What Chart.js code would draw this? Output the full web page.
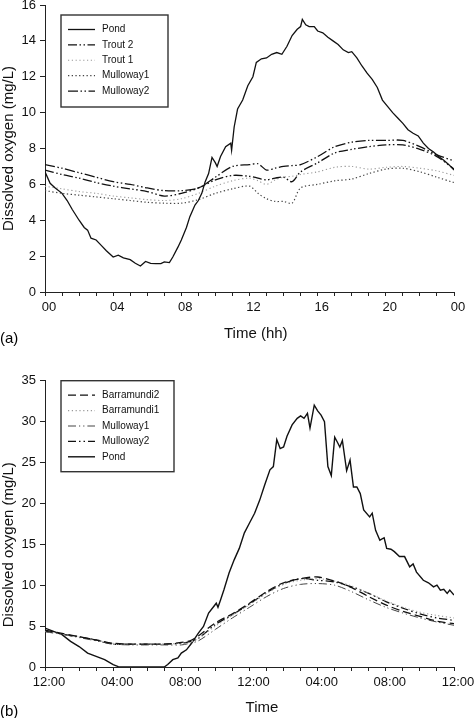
<!DOCTYPE html>
<html>
<head>
<meta charset="utf-8">
<script src="https://cdn.jsdelivr.net/npm/chart.js@4/dist/chart.umd.min.js"></script>
<style>
  body { margin: 0; background: #fff; width: 474px; height: 718px; position: relative; overflow: hidden;
         font-family: "Liberation Sans", Arial, sans-serif; }
  canvas { position: absolute; left: 0; }
  #chartA { top: 0; }
  #chartB { top: 359px; }
  .tag { position: absolute; left: 0; font-size: 15px; line-height: 17px; color: #000; }
</style>
</head>
<body>
<canvas id="chartA" width="474" height="345"></canvas>
<canvas id="chartB" width="474" height="359"></canvas>
<div class="tag" style="top:329px">(a)</div>
<div class="tag" style="top:702px">(b)</div>
<script>
// ---------- panel (a) ----------
const xLabelsA = ['00', '04', '08', '12', '16', '20', '00'];

const pondHoursA = [0, 0.3, 0.6, 1, 1.3, 1.6, 2, 2.3, 2.5, 2.7, 3, 3.3, 3.6, 4, 4.3, 4.6, 5, 5.3, 5.6, 5.9,
  6.2, 6.5, 6.8, 7, 7.3, 7.5, 7.8, 8, 8.3, 8.5, 8.8, 9, 9.2, 9.4, 9.6, 9.8, 10, 10.1, 10.3, 10.6,
  10.9, 10.95, 11.1, 11.3, 11.6, 11.9, 12.2, 12.4, 12.7, 13, 13.3, 13.6, 13.9, 14.2, 14.5, 14.8, 15, 15.1, 15.3, 15.5,
  15.8, 16, 16.3, 16.6, 16.9, 17.2, 17.5, 17.8, 18, 18.3, 18.6, 18.9, 19.2, 19.5, 19.8, 20.1, 20.4, 20.7, 21, 21.3,
  21.6, 21.9, 22.2, 22.5, 22.8, 23.1, 23.4, 23.7, 24];
const pondA = [6.7, 6.06, 5.8, 5.5, 5.1, 4.6, 4.0, 3.6, 3.45, 3.0, 2.9, 2.6, 2.3, 1.95, 2.05, 1.9, 1.8, 1.6, 1.45, 1.7,
  1.6, 1.58, 1.58, 1.68, 1.64, 1.95, 2.5, 2.9, 3.6, 4.2, 4.85, 5.1, 5.5, 6.15, 6.6, 7.5, 7.2, 7.0, 7.55, 8.1,
  8.3, 7.9, 9.2, 10.2, 10.7, 11.5, 12.0, 12.8, 13.0, 13.05, 13.25, 13.35, 13.25, 13.7, 14.3, 14.65, 14.8, 15.2, 14.9, 14.8,
  14.8, 14.55, 14.45, 14.2, 14.0, 13.8, 13.5, 13.35, 13.4, 13.05, 12.6, 12.2, 11.85, 11.4, 10.7, 10.35, 10.0, 9.7, 9.4, 9.05,
  8.85, 8.7, 8.3, 8.0, 7.8, 7.55, 7.35, 7.1, 6.8];

const hoursA = [0, 1, 2, 3, 4, 5, 6, 7, 8, 9, 10, 11, 12, 12.5, 13, 13.5, 14, 14.5, 15, 16, 17, 18, 19, 20, 21, 22, 23, 24];
const trout2A    = [6.8, 6.55, 6.35, 6.1, 5.9, 5.75, 5.6, 5.35, 5.5, 5.8, 6.25, 6.5, 6.45, 6.35, 6.25, 6.35, 6.4, 6.15, 6.7, 7.2, 7.75, 7.95, 8.1, 8.2, 8.2, 7.95, 7.55, 6.85];
const trout1A    = [5.9, 5.75, 5.6, 5.5, 5.35, 5.25, 5.15, 5.1, 5.2, 5.5, 5.9, 6.2, 6.35, 6.2, 6.0, 6.25, 6.4, 6.45, 6.55, 6.7, 6.95, 7.0, 6.85, 6.95, 7.0, 6.9, 6.75, 6.5];
const mulloway1A = [5.65, 5.5, 5.4, 5.3, 5.2, 5.1, 5.0, 4.95, 4.95, 5.15, 5.5, 5.75, 5.9, 5.5, 5.2, 5.05, 5.05, 4.95, 5.8, 6.0, 6.2, 6.3, 6.6, 6.85, 6.9, 6.7, 6.4, 6.1];
const mulloway2A = [7.1, 6.9, 6.65, 6.4, 6.15, 6.0, 5.8, 5.65, 5.65, 5.8, 6.4, 7.0, 7.1, 7.15, 6.8, 6.9, 7.0, 7.05, 7.1, 7.55, 8.1, 8.35, 8.45, 8.45, 8.45, 8.1, 7.65, 7.3];

// ---------- panel (b) ----------
const xLabelsB = ['12:00', '04:00', '08:00', '12:00', '04:00', '08:00', '12:00'];

const pondHoursB = [0, 0.5, 1, 1.5, 2, 2.5, 3, 3.5, 4, 4.3, 4.5, 7, 7.2, 7.5, 7.8, 8, 8.3, 8.6, 9, 9.3,
  9.6, 9.9, 10.05, 10.15, 10.3, 10.5, 10.8, 11.1, 11.4, 11.7, 12, 12.3, 12.6, 12.9, 13.2, 13.4, 13.6, 13.8, 14, 14.2,
  14.5, 14.8, 15, 15.2, 15.4, 15.55, 15.8, 16, 16.2, 16.4, 16.6, 16.8, 17, 17.15, 17.3, 17.45, 17.7, 17.9, 18.1, 18.3,
  18.5, 18.7, 19.05, 19.2, 19.4, 19.65, 19.9, 20.05, 20.3, 20.5, 20.8, 21.1, 21.4, 21.6, 21.8, 22.2, 22.5, 22.8, 23.0, 23.2,
  23.4, 23.6, 23.75, 24];
const pondB = [4.76, 4.35, 3.95, 3.13, 2.5, 1.7, 1.3, 0.9, 0.28, 0.05, 0, 0, 0.3, 0.9, 1.1, 1.7, 2.1, 2.9, 4.15, 4.95,
  6.6, 7.4, 7.8, 7.3, 8.2, 9.45, 11.5, 13.1, 14.5, 16.4, 17.6, 18.8, 20.4, 22.3, 24.1, 24.5, 27.8, 26.7, 26.9, 28.2,
  29.6, 30.4, 30.7, 30.4, 31.0, 29.2, 32.0, 31.3, 30.8, 30.0, 24.5, 23.4, 28.1, 27.5, 26.9, 27.7, 24.0, 25.3, 22.0, 22.0,
  21.2, 19.2, 18.35, 18.8, 16.7, 15.5, 15.8, 14.5, 14.4, 14.1, 13.5, 13.5, 12.25, 12.6, 11.6, 10.6, 10.3, 9.8, 10.0, 9.4,
  9.5, 9.0, 9.4, 8.8];

const hoursB = [0, 1, 2, 3, 4, 5, 6, 7, 8, 8.5, 9, 10, 11, 12, 13, 14, 15, 16, 17, 18, 19, 20, 21, 22, 23, 24];
const barramundi2B = [4.5, 4.1, 3.7, 3.3, 2.9, 2.8, 2.8, 2.8, 3.0, 3.2, 3.8, 5.4, 6.5, 7.8, 9.2, 10.3, 10.8, 11.0, 10.5, 9.7, 8.6, 7.6, 6.8, 6.2, 5.6, 5.3];
const barramundi1B = [4.4, 4.0, 3.7, 3.3, 2.9, 2.8, 2.8, 2.8, 2.9, 3.0, 3.5, 5.0, 6.3, 7.6, 9.0, 10.1, 10.6, 10.8, 10.5, 9.9, 9.0, 8.1, 7.3, 6.7, 6.3, 6.0];
const mulloway1B   = [4.3, 4.0, 3.6, 3.2, 2.8, 2.7, 2.7, 2.7, 2.7, 2.9, 3.2, 4.6, 6.0, 7.3, 8.6, 9.6, 10.1, 10.2, 10.0, 9.2, 8.2, 7.3, 6.6, 6.0, 5.5, 5.1];
const mulloway2B   = [4.4, 4.0, 3.7, 3.3, 2.8, 2.8, 2.8, 2.8, 2.9, 3.1, 3.5, 5.2, 6.4, 7.7, 9.1, 10.2, 10.8, 10.6, 10.4, 9.8, 9.0, 8.0, 7.2, 6.5, 6.0, 5.7];

const FONT = '"Liberation Sans", Arial, sans-serif';
const NB = '\u00a0';

function pairs(xs, ys) {
  return xs.map((x, i) => ({ x: x, y: ys[i] }));
}

function line(label, xs, ys, color, width, dash, tension) {
  return {
    label: label,
    data: pairs(xs, ys),
    borderColor: color,
    borderWidth: width,
    borderDash: dash,
    pointRadius: 0,
    tension: tension,
    fill: false
  };
}

// legend drawn inside the plot, like the original figure
const boxLegend = {
  id: 'boxLegend',
  afterDraw(chart, args, opts) {
    const ctx = chart.ctx;
    const a = chart.chartArea;
    const x = a.left + opts.x, y = a.top + opts.y;
    ctx.save();
    ctx.strokeStyle = '#333';
    ctx.lineWidth = 1.4;
    ctx.strokeRect(x, y, opts.w, opts.h);
    ctx.font = '10px ' + FONT;
    ctx.fillStyle = '#111';
    ctx.textBaseline = 'middle';
    chart.data.datasets.forEach((ds, i) => {
      const ly = y + 14.5 + i * 15.4;
      ctx.beginPath();
      ctx.strokeStyle = ds.borderColor;
      ctx.lineWidth = ds.borderWidth;
      ctx.setLineDash(ds.borderDash || []);
      ctx.moveTo(x + 7, ly);
      ctx.lineTo(x + 34, ly);
      ctx.stroke();
      ctx.setLineDash([]);
      ctx.fillText(ds.label, x + 41, ly);
    });
    ctx.restore();
  }
};

function makeChart(id, datasets, yMax, yStep, xLabels, xTitle, yTitle, pad, xAxisH, titlePad, legend) {
  return new Chart(document.getElementById(id), {
    type: 'line',
    data: { datasets: datasets },
    plugins: [boxLegend],
    options: {
      responsive: false,
      animation: false,
      layout: { padding: { top: pad, right: 20, left: 0, bottom: 0 } },
      plugins: {
        legend: { display: false },
        tooltip: { enabled: false },
        boxLegend: legend
      },
      scales: {
        x: {
          type: 'linear',
          min: 0,
          max: 24,
          border: { color: '#222', width: 1 },
          grid: { drawOnChartArea: false, tickLength: 4, color: '#222' },
          ticks: {
            stepSize: 1,
            autoSkip: false,
            maxRotation: 0,
            padding: 4,
            labelOffset: 4,
            color: '#111',
            font: { family: FONT, size: 13 },
            callback: v => (v % 4 === 0 ? xLabels[v / 4] : '')
          },
          title: {
            display: true,
            text: xTitle,
            color: '#111',
            font: { family: FONT, size: 15 },
            padding: { top: 0, bottom: titlePad }
          },
          afterFit: s => { s.height = xAxisH; s.paddingLeft = 0; s.paddingRight = 0; }
        },
        y: {
          min: 0,
          max: yMax,
          border: { color: '#222', width: 1 },
          grid: { drawOnChartArea: false, tickLength: 5, color: '#222' },
          ticks: {
            stepSize: yStep,
            padding: 4,
            color: '#111',
            font: { family: FONT, size: 13 }
          },
          title: {
            display: true,
            text: yTitle,
            color: '#111',
            font: { family: FONT, size: 15 },
            padding: { top: 0, bottom: 0 }
          },
          afterFit: s => { s.width = 45; s.paddingTop = 0; s.paddingBottom = 0; }
        }
      }
    }
  });
}

makeChart('chartA', [
  line('Pond', pondHoursA, pondA, '#111', 1.3, [], 0),
  line('Trout 2', hoursA, trout2A, '#111', 1.3, [9, 2.5, 1.5, 2.5, 1.5, 2.5], 0.3),
  line('Trout 1', hoursA, trout1A, '#999', 1.1, [1.2, 2.6], 0.3),
  line('Mulloway1', hoursA, mulloway1A, '#444', 1.2, [1.3, 2.4], 0.3),
  line('Mulloway2', hoursA, mulloway2A, '#111', 1.3, [10, 2.5, 1.5, 2.5, 1.5, 2.5], 0.3)
], 16, 2, xLabelsA, NB.repeat(3) + 'Time (hh)', 'Dissolved oxygen (mg/L)', 5, 53, 2.5,
  { x: 16, y: 10, w: 107, h: 92 });

makeChart('chartB', [
  line('Barramundi2', hoursB, barramundi2B, '#111', 1.3, [8, 4], 0.3),
  line('Barramundi1', hoursB, barramundi1B, '#999', 1.1, [1.2, 2.6], 0.3),
  line('Mulloway1', hoursB, mulloway1B, '#444', 1.0, [8, 3, 1.2, 3, 1.2, 3], 0.3),
  line('Mulloway2', hoursB, mulloway2B, '#111', 1.3, [8, 3, 1.5, 3, 1.5, 3], 0.3),
  line('Pond', pondHoursB, pondB, '#111', 1.4, [], 0)
], 35, 5, xLabelsB, NB.repeat(6) + 'Time', 'Dissolved oxygen (mg/L)' + NB.repeat(10), 21.7, 51, 1,
  { x: 16, y: 0, w: 113, h: 91 });
</script>
</body>
</html>
